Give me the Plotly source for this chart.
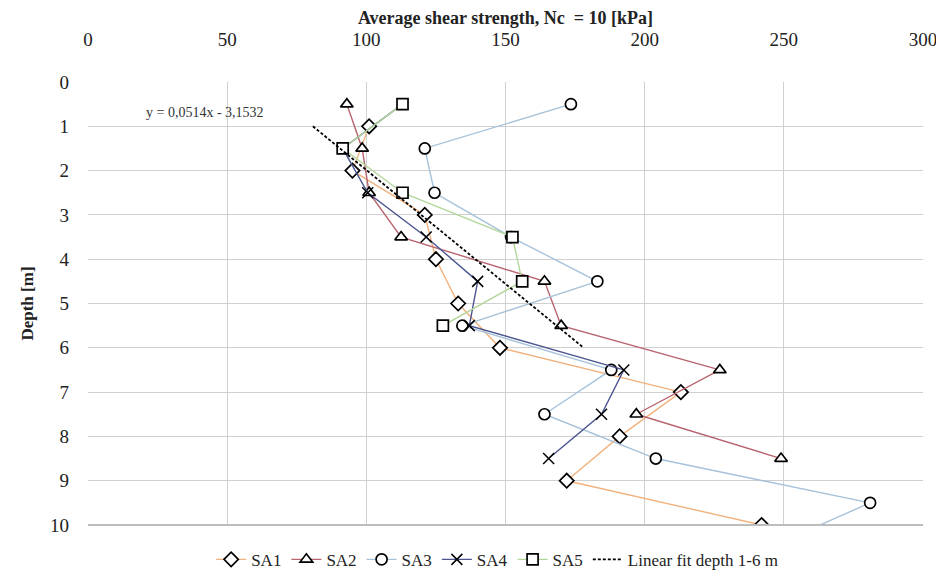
import plotly.graph_objects as go

# ---- data ----
depth_int = [1, 2, 3, 4, 5, 6, 7, 8, 9, 10]
depth_half = [0.5, 1.5, 2.5, 3.5, 4.5, 5.5, 6.5, 7.5, 8.5, 9.5, 10.5]

sa1 = [101, 95, 121, 125, 133, 148, 213, 191, 172, 242]
sa2 = [93, 98.5, 101, 112.5, 164, 170, 227, 197, 249]
sa3 = [173.5, 121, 124.5, 152, 183, 134.5, 188, 164, 204, 281, 245]
sa4 = [113, 91.5, 100.5, 121.5, 140, 137, 192.5, 184.5, 165.5]
sa5 = [113, 91.5, 113, 152.5, 156, 127.5]

fit_slope = 0.0514
fit_intercept = -3.1532
fit_depths = [1, 6]
fit_label = "y = 0,0514x - 3,1532"

x_ticks = [0, 50, 100, 150, 200, 250, 300]
y_ticks = [0, 1, 2, 3, 4, 5, 6, 7, 8, 9, 10]

FONT = "Liberation Serif, Times New Roman, serif"

fig = go.Figure()

def add_series(name, xs, ys, color, symbol):
    marker = dict(symbol=symbol, size=11, color="white",
                  line=dict(color="black", width=1.7))
    if symbol.startswith("x"):
        marker = dict(symbol=symbol, size=11, color="black",
                      line=dict(color="black", width=1.5))
    fig.add_trace(go.Scatter(
        x=xs, y=ys, name=name, mode="lines+markers",
        line=dict(color=color, width=1.4),
        marker=marker,
    ))

add_series("SA1", sa1, depth_int[:len(sa1)], "#F2B27E", "diamond")
add_series("SA2", sa2, depth_half[:len(sa2)], "#B8646E", "triangle-up")
add_series("SA3", sa3, depth_half[:len(sa3)], "#A6C2DA", "circle")
add_series("SA4", sa4, depth_half[:len(sa4)], "#4B5590", "x-thin")
add_series("SA5", sa5, depth_half[:len(sa5)], "#B3D69A", "square")

fit_x = [(d - fit_intercept) / fit_slope for d in fit_depths]
fig.add_trace(go.Scatter(
    x=fit_x, y=fit_depths, name="Linear fit depth 1-6 m", mode="lines",
    line=dict(color="black", width=1.8, dash="3px,2px"),
))

fig.add_annotation(
    x=42, y=0.68, text=fit_label, showarrow=False,
    font=dict(family=FONT, size=14, color="#333333"),
)

# page body has an 8px margin, so the figure is sized and offset for it
fig.update_layout(
    width=936, height=573,
    margin=dict(l=80, r=21, t=74, b=56, autoexpand=False),
    paper_bgcolor="white", plot_bgcolor="white",
    font=dict(family=FONT, size=17, color="#222222"),
    showlegend=True,
    legend=dict(orientation="h", x=0.49, xanchor="center",
                yref="container", y=0.037, yanchor="middle",
                font=dict(family=FONT, size=17), itemwidth=30,
                tracegroupgap=0, bgcolor="rgba(0,0,0,0)"),
)

fig.update_xaxes(
    side="top", range=[0, 300], tickvals=x_ticks,
    showgrid=True, gridcolor="#D0D0D0", gridwidth=1.2,
    zeroline=False, showline=False, automargin=False,
    ticks="", ticklabelstandoff=31,
    tickfont=dict(family=FONT, size=19),
    title=dict(text="<b>Average shear strength, Nc  = 10 [kPa]</b>",
               font=dict(family=FONT, size=18), standoff=1),
)
fig.update_yaxes(
    range=[10, 0], tickvals=y_ticks,
    showgrid=True, gridcolor="#D0D0D0", gridwidth=1.2,
    zeroline=False, showline=False, automargin=False,
    ticks="", ticklabelstandoff=18,
    tickfont=dict(family=FONT, size=19),
    title=dict(text="<b>Depth [m]</b>", font=dict(family=FONT, size=17), standoff=12),
)

# bottom axis line
fig.add_shape(type="line", xref="paper", yref="paper", x0=0, x1=1, y0=0, y1=0,
              line=dict(color="#BDBDBD", width=2))

fig.write_html("out.html")
